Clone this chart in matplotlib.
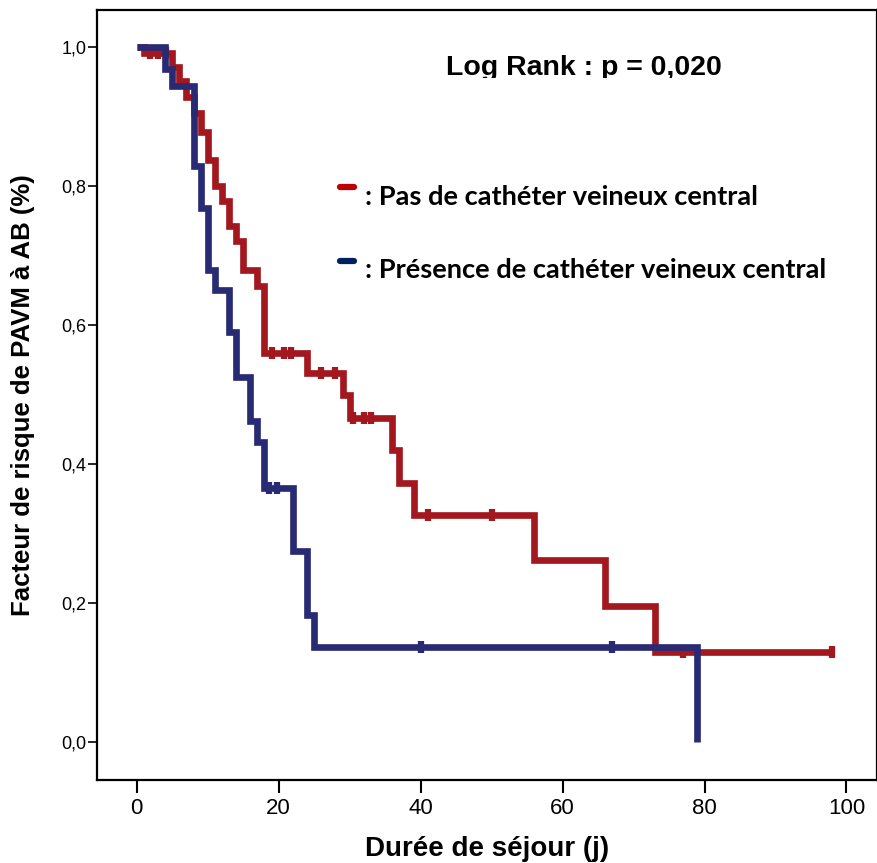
import matplotlib; matplotlib.use('Agg')
import matplotlib.pyplot as plt, numpy as np
from matplotlib.transforms import Bbox, TransformedBbox

RED, BLUE = '#A3171E', '#282A74'
RED_KEY, BLUE_KEY = '#C00000', '#002060'
ARIAL = ['Liberation Sans', 'DejaVu Sans']

# Kaplan-Meier steps (days, survival)
red_times = [0, 1, 5, 6, 7, 8, 9, 10, 11, 12, 13, 14, 15, 17, 18, 24, 29, 30, 36, 37, 39, 56, 66, 73, 98]
red_surv = [1.0, 0.99, 0.97, 0.95, 0.928, 0.905, 0.877, 0.837, 0.80, 0.778, 0.742, 0.72, 0.678, 0.655,
            0.56, 0.531, 0.499, 0.466, 0.42, 0.373, 0.327, 0.262, 0.196, 0.130, 0.130]
red_censor = [1.8, 3, 4.1, 19, 20.8, 21.8, 26, 28, 30.5, 32, 33, 41, 50, 77, 98]

blue_times = [0, 4, 5, 8, 9, 10, 11, 13, 14, 16, 17, 18, 22, 24, 25, 79]
blue_surv = [1.0, 0.967, 0.943, 0.828, 0.768, 0.678, 0.650, 0.590, 0.525, 0.461, 0.432, 0.365,
             0.275, 0.183, 0.137, 0.0]
blue_censor = [18.7, 19.8, 40, 67]

groups = [': Pas de cathéter veineux central', ': Présence de cathéter veineux central']
x_ticks = [0, 20, 40, 60, 80, 100]
y_ticks = [0.0, 0.2, 0.4, 0.6, 0.8, 1.0]


def at(times, surv, t):
    i = np.searchsorted(times, t, side='right') - 1
    return np.asarray(surv)[i]


fig = plt.figure(figsize=(8.78, 8.63), dpi=100)
ax = fig.add_axes([97 / 878, 1 - 780 / 863, 780 / 878, 770 / 863])

for times, surv, cens, col, z in [(red_times, red_surv, red_censor, RED, 3),
                                  (blue_times, blue_surv, blue_censor, BLUE, 4)]:
    ax.step(times, surv, where='post', color=col, lw=4.8, zorder=z,
            solid_joinstyle='miter', solid_capstyle='butt')
    ax.plot(cens, at(times, surv, cens), ls='none', marker='|', ms=8, mew=4.5,
            color=col, zorder=z)

ax.set_xlim(-5.6, 104.3)
ax.set_ylim(-0.0546, 1.0525)
ax.set_xticks(x_ticks)
ax.set_xticklabels([str(v) for v in x_ticks], family=ARIAL, fontsize=16)
ax.set_yticks(y_ticks)
ax.set_yticklabels([f'{v:.1f}'.replace('.', ',') for v in y_ticks], family=ARIAL, fontsize=13)
ax.tick_params(axis='x', length=9, width=1.5, pad=4)
ax.tick_params(axis='y', length=6.5, width=1.2, pad=1)
for s in ax.spines.values():
    s.set_linewidth(1.6)

ax.set_xlabel('Durée de séjour (j)', family=ARIAL, fontweight='bold', fontsize=20)
ax.xaxis.set_label_coords(0.5, -0.0896)
ax.xaxis.label.set_va('center')
ax.set_ylabel('Facteur de risque de PAVM à AB (%)', family=ARIAL, fontweight='bold', fontsize=18.5)
ax.yaxis.set_label_coords(-0.095, 0.5)
ax.yaxis.label.set_va('center')

# p-value, lower part clipped as in the source
t = ax.text(0.624, 0.9156, 'Log Rank : p = 0,020', transform=ax.transAxes, ha='center',
            va='baseline', family=ARIAL, fontweight='bold', fontsize=20.5)
t.set_clip_box(TransformedBbox(Bbox([[0, 0.912], [1, 1]]), ax.transAxes))
t.set_clip_on(True)

# hand-made key
for lab, col, ky, ty in [(groups[0], RED_KEY, 0.770, 0.747), (groups[1], BLUE_KEY, 0.674, 0.652)]:
    ax.plot([0.311, 0.329], [ky, ky], transform=ax.transAxes, color=col, lw=4.5,
            solid_capstyle='round', clip_on=False)
    ax.text(0.3436, ty, lab, transform=ax.transAxes, ha='left', va='baseline',
            family=['Lato', 'Open Sans', 'DejaVu Sans'], fontweight='bold', fontsize=19.6)

fig.savefig('out.png', dpi=100)
plt.close(fig)
